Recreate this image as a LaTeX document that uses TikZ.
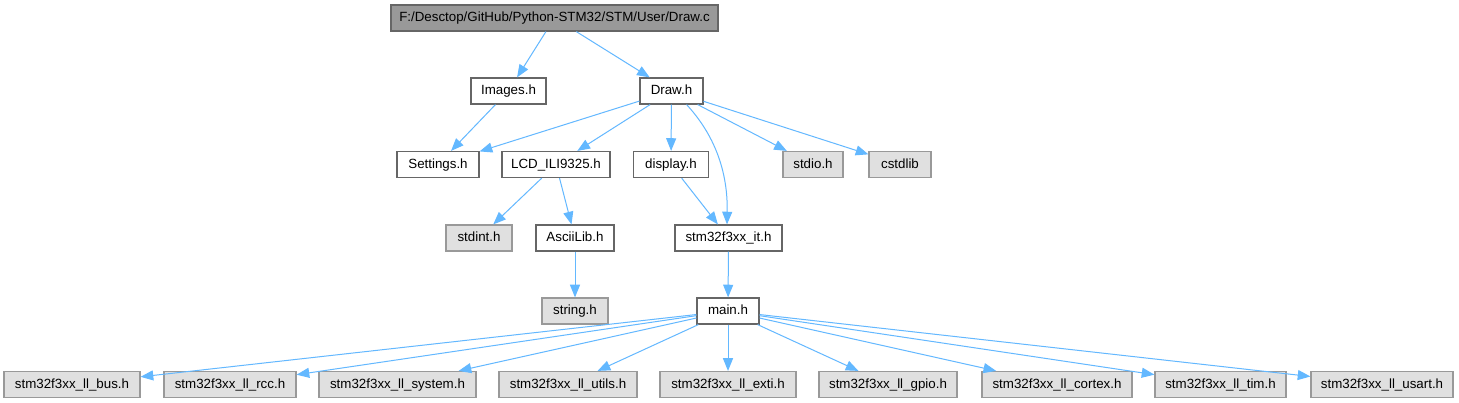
\documentclass[tikz,border=0pt]{standalone}
\usepackage{fontspec}
\setmainfont{Liberation Sans}
\usetikzlibrary{arrows.meta}
\definecolor{edgeblue}{HTML}{63B8FF}
\definecolor{wborder}{HTML}{666666}
\definecolor{gborder}{HTML}{999999}
\definecolor{gfill}{HTML}{E0E0E0}
\definecolor{rfill}{HTML}{999999}
\begin{document}
\begin{tikzpicture}[x=0.75pt,y=-0.75pt,
  box/.style={draw, line width=0.9pt, inner sep=0pt, minimum height=19.5pt,
    font=\fontsize{10}{12}\selectfont, text height=7.4pt, text depth=2.1pt},
  bw/.style={minimum width=#1*0.75pt},
  wbox/.style={box, fill=white, draw=wborder},
  gbox/.style={box, fill=gfill, draw=gborder},
  rbox/.style={box, fill=rfill, draw=wborder},
  dep/.style={draw=edgeblue, line width=0.75pt, -{Triangle[length=9.5pt,width=7.5pt]}}
]
\fill[white] (0,0) rectangle (1459,403);
\useasboundingbox (0,0) rectangle (1459,403);

\node[rbox, bw=327] (root) at (554.5,18) {F:/Desctop/GitHub/Python-STM32/STM/User/Draw.c};
\node[wbox, bw=75] (images) at (508.5,91) {Images.h};
\node[wbox, bw=63] (draw) at (671.5,91) {Draw.h};
\node[wbox, bw=82] (settings) at (438,164.5) {Settings.h};
\node[wbox, bw=108] (lcd) at (556,164.5) {LCD\_ILI9325.h};
\node[wbox, bw=75] (display) at (671,164.5) {display.h};
\node[gbox, bw=60] (stdio) at (813,164.5) {stdio.h};
\node[gbox, bw=62] (cstdlib) at (900,164.5) {cstdlib};
\node[gbox, bw=66] (stdint) at (479,238) {stdint.h};
\node[wbox, bw=78] (ascii) at (575,238) {AsciiLib.h};
\node[wbox, bw=107] (it) at (728.5,238) {stm32f3xx\_it.h};
\node[gbox, bw=66] (string) at (575,311) {string.h};
\node[wbox, bw=62] (main) at (728,311) {main.h};
\node[gbox, bw=136] (bus) at (72,384.5) {stm32f3xx\_ll\_bus.h};
\node[gbox, bw=132] (rcc) at (230,384.5) {stm32f3xx\_ll\_rcc.h};
\node[gbox, bw=157] (system) at (397.5,384.5) {stm32f3xx\_ll\_system.h};
\node[gbox, bw=138] (utils) at (568,384.5) {stm32f3xx\_ll\_utils.h};
\node[gbox, bw=136] (exti) at (728,384.5) {stm32f3xx\_ll\_exti.h};
\node[gbox, bw=138] (gpio) at (888,384.5) {stm32f3xx\_ll\_gpio.h};
\node[gbox, bw=150] (cortex) at (1057,384.5) {stm32f3xx\_ll\_cortex.h};
\node[gbox, bw=131] (tim) at (1220.5,384.5) {stm32f3xx\_ll\_tim.h};
\node[gbox, bw=142] (usart) at (1382,384.5) {stm32f3xx\_ll\_usart.h};

\draw[dep] (root) -- (images);
\draw[dep] (root) -- (draw);
\draw[dep] (images) -- (settings);
\draw[dep] (draw) -- (settings);
\draw[dep] (draw) -- (lcd);
\draw[dep] (draw) -- (display);
\draw[dep] (draw.-42) .. controls (710,130) and (728,165) .. (it.north -| 727,0);
\draw[dep] (draw) -- (stdio);
\draw[dep] (draw) -- (cstdlib);
\draw[dep] (lcd) -- (stdint);
\draw[dep] (lcd) -- (ascii);
\draw[dep] (display) -- (it);
\draw[dep] (ascii) -- (string);
\draw[dep] (it) -- (main);
\foreach \t in {bus,rcc,system,utils,exti,gpio,cortex,tim,usart}
  \draw[dep] (main) -- (\t);
\end{tikzpicture}
\end{document}
